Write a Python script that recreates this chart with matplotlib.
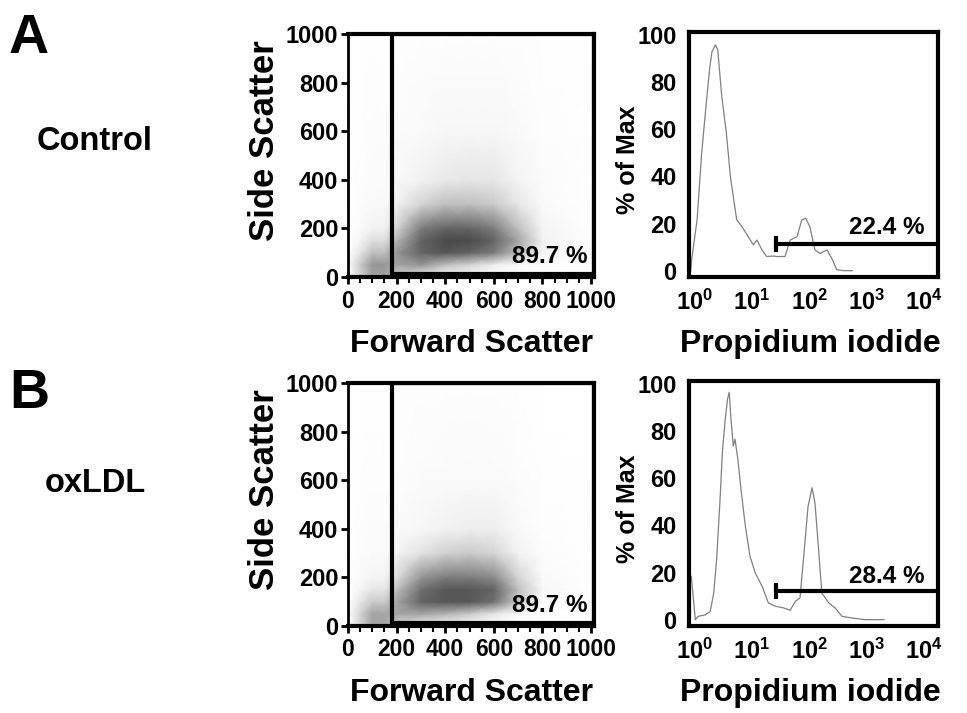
import numpy as np
import matplotlib
matplotlib.use('Agg')
import matplotlib.pyplot as plt
from matplotlib.patches import Rectangle
from matplotlib.ticker import MultipleLocator

plt.rcParams['font.family'] = ['Liberation Sans', 'DejaVu Sans']
plt.rcParams['font.weight'] = 'bold'
plt.rcParams['mathtext.fontset'] = 'custom'
plt.rcParams['mathtext.rm'] = 'Liberation Sans:bold'
plt.rcParams['mathtext.bf'] = 'Liberation Sans:bold'

# --- scatter density (0 = empty, 1 = densest) ---
fsc_nodes = [0, 50, 100, 150, 200, 300, 400, 500, 600, 700, 800, 1000]
ssc_nodes = [0, 50, 100, 150, 200, 300, 400, 600, 1000]

density_control = [
    [0, 0.30, 0.50, 0.50, 0.35, 0.10, 0.05, 0.02, 0, 0, 0, 0],
    [0, 0.35, 0.55, 0.55, 0.50, 0.55, 0.40, 0.30, 0.15, 0.05, 0, 0],
    [0, 0.20, 0.40, 0.40, 0.55, 0.75, 0.80, 0.75, 0.65, 0.40, 0.10, 0],
    [0, 0.10, 0.25, 0.25, 0.45, 0.75, 0.85, 0.85, 0.75, 0.50, 0.12, 0],
    [0, 0.05, 0.12, 0.12, 0.30, 0.65, 0.75, 0.75, 0.65, 0.40, 0.10, 0],
    [0, 0.03, 0.06, 0.06, 0.12, 0.30, 0.40, 0.40, 0.35, 0.20, 0.05, 0],
    [0, 0.02, 0.04, 0.04, 0.06, 0.12, 0.18, 0.20, 0.20, 0.10, 0.04, 0],
    [0, 0.01, 0.03, 0.03, 0.03, 0.05, 0.07, 0.08, 0.08, 0.05, 0.02, 0],
    [0, 0, 0.01, 0.01, 0.01, 0.02, 0.02, 0.02, 0.02, 0.02, 0.01, 0],
]
density_oxldl = [
    [0, 0.30, 0.50, 0.50, 0.30, 0.08, 0.03, 0.02, 0, 0, 0, 0],
    [0, 0.30, 0.50, 0.50, 0.50, 0.50, 0.45, 0.35, 0.20, 0.05, 0, 0],
    [0, 0.20, 0.35, 0.35, 0.50, 0.75, 0.80, 0.80, 0.70, 0.35, 0.05, 0],
    [0, 0.10, 0.20, 0.20, 0.40, 0.70, 0.80, 0.80, 0.75, 0.40, 0.08, 0],
    [0, 0.05, 0.10, 0.10, 0.25, 0.55, 0.65, 0.65, 0.60, 0.30, 0.05, 0],
    [0, 0.03, 0.05, 0.05, 0.10, 0.22, 0.32, 0.35, 0.30, 0.12, 0.03, 0],
    [0, 0.02, 0.04, 0.04, 0.05, 0.08, 0.12, 0.15, 0.15, 0.06, 0.02, 0],
    [0, 0.01, 0.02, 0.02, 0.02, 0.04, 0.05, 0.05, 0.05, 0.03, 0.01, 0],
    [0, 0, 0.01, 0.01, 0.01, 0.02, 0.02, 0.02, 0.02, 0.01, 0, 0],
]
gate_fsc = 180
gate_pct = ['89.7 %', '89.7 %']

# --- PI histograms (log10 of intensity, % of max) ---
pi_log_control = [-0.06, -0.04, 0.05, 0.13, 0.21, 0.27, 0.31, 0.37, 0.41, 0.48, 0.56,
                  0.63, 0.68, 0.74, 0.83, 0.94, 1.03, 1.09, 1.18, 1.26, 1.38, 1.43,
                  1.58, 1.67, 1.79, 1.87, 1.94, 2.01, 2.10, 2.19, 2.31, 2.39, 2.48,
                  2.59, 2.75]
pi_max_control = [0, 5.3, 21.5, 49.8, 71, 86, 93, 95.8, 93.7, 73.9, 58.3,
                  39.9, 31.4, 21.5, 18.7, 14.4, 10.9, 13, 8.8, 6, 6.2, 6,
                  6, 13, 14.4, 21.5, 22.2, 18.7, 8.8, 7.3, 8.8, 5.3, 0.4,
                  0, 0]
pi_log_oxldl = [-0.05, 0.02, 0.07, 0.19, 0.28, 0.34, 0.39, 0.45, 0.49, 0.54, 0.58,
                0.61, 0.64, 0.68, 0.71, 0.76, 0.82, 0.89, 0.97, 1.06, 1.18, 1.29,
                1.41, 1.55, 1.67, 1.76, 1.84, 1.90, 1.98, 2.05, 2.10, 2.16, 2.22,
                2.34, 2.45, 2.57, 2.74, 2.97, 3.3]
pi_max_oxldl = [18.4, 0, 1.4, 2, 3.5, 11.3, 25.5, 51, 71, 85, 93.6,
                96.5, 85, 73.7, 76.6, 68, 54, 39.7, 27, 19.9, 14.2, 7.1,
                5.7, 5, 4, 7.8, 9.2, 25.5, 48, 56, 49.6, 31, 11.3,
                7.1, 5, 1.4, 0.7, 0, 0]
pi_gate_lo = [27, 27]
pi_gate_y = [11.3, 12]
pi_pct = ['22.4 %', '28.4 %']

row_labels = ['Control', 'oxLDL']
panel_letters = ['A', 'B']

W, H = 967, 713
fig = plt.figure(figsize=(W / 100, H / 100), dpi=100)


def px(x, y):
    return x / W, 1 - y / H


def box(left, top, right, bottom):
    return [left / W, 1 - bottom / H, (right - left) / W, (bottom - top) / H]


row_offset = [0, 349]
density_sets = [density_control, density_oxldl]
pi_logs = [pi_log_control, pi_log_oxldl]
pi_vals = [pi_max_control, pi_max_oxldl]

for r in range(2):
    dy = row_offset[r]

    # dot plot (drawn as density)
    ax = fig.add_axes(box(348, 33.5 + dy, 594, 277 + dy))
    X, Y = np.meshgrid(fsc_nodes, ssc_nodes)
    ax.pcolormesh(X, Y, np.array(density_sets[r]), cmap='Greys', vmin=0, vmax=1.1,
                  shading='gouraud', zorder=1)
    ax.add_patch(Rectangle((gate_fsc, 12), 1012 - gate_fsc, 990, fill=False,
                           lw=3, ec='black', zorder=3))
    ax.set_xlim(0, 1012)
    ax.set_ylim(0, 1003)
    ax.set_xticks([0, 200, 400, 600, 800, 1000])
    ax.xaxis.set_minor_locator(MultipleLocator(50))
    ax.set_yticks([0, 200, 400, 600, 800, 1000])
    ax.tick_params(which='major', direction='out', length=5, width=2, labelsize=17, pad=2)
    ax.tick_params(axis='x', which='minor', direction='out', length=4, width=1.5)
    ax.tick_params(axis='x', which='major', pad=4, labelsize=16.5)
    for lab in ax.get_xticklabels() + ax.get_yticklabels():
        lab.set_fontweight('bold')
    for s in ['top', 'right', 'bottom']:
        ax.spines[s].set_linewidth(3)
    ax.spines['left'].set_linewidth(2)
    ax.text(985, 86, gate_pct[r], ha='right', va='center', fontsize=17.5,
            fontweight='bold', zorder=4)

    fig.text(*px(264, 141 + dy), 'Side Scatter', rotation=90, ha='center', va='center',
             fontsize=25, fontweight='bold')
    fig.text(*px(471, 352 + dy), 'Forward Scatter', ha='center', va='baseline',
             fontsize=23, fontweight='bold')

    # PI histogram
    ah = fig.add_axes(box(689, 32 + dy, 938, 277 + dy))
    ah.plot(np.power(10.0, pi_logs[r]), pi_vals[r], color='#808080', lw=0.9)
    x_hi = 10 ** 4.24
    ah.plot([pi_gate_lo[r], x_hi], [pi_gate_y[r], pi_gate_y[r]], color='black', lw=3,
            solid_capstyle='butt')
    ah.plot([pi_gate_lo[r]], [pi_gate_y[r]], marker='|', ms=12, mew=3, color='black')
    ah.set_xscale('log')
    ah.set_xlim(10 ** -0.09, x_hi)
    ah.set_ylim(-2.7, 101.3)
    ah.set_xticks([1, 10, 100, 1000, 10000])
    ah.set_xticklabels([r'$\mathbf{10^{%d}}$' % k for k in range(5)])
    ah.xaxis.set_minor_locator(plt.NullLocator())
    ah.set_yticks([0, 20, 40, 60, 80, 100])
    ah.tick_params(length=0, labelsize=17, pad=9)
    for lab in ah.get_yticklabels():
        lab.set_fontweight('bold')
    for s in ah.spines.values():
        s.set_linewidth(3)
    ah.text(10 ** 3.35, 18.3, pi_pct[r], ha='center', va='center', fontsize=17.5,
            fontweight='bold')

    fig.text(*px(628, 160 + dy), '% of Max', rotation=90, ha='center', va='center',
             fontsize=18, fontweight='bold')
    fig.text(*px(810, 352 + dy), 'Propidium iodide', ha='center', va='baseline',
             fontsize=23, fontweight='bold')

    fig.text(*px(9, 53 + dy + (6 if r else 0)), panel_letters[r], ha='left', va='baseline',
             fontsize=40, fontweight='bold')
    fig.text(*px(37 + 8 * r, 150 + dy - 7 * r), row_labels[r], ha='left', va='baseline',
             fontsize=23.5, fontweight='bold')

fig.savefig('out.png', dpi=100)
